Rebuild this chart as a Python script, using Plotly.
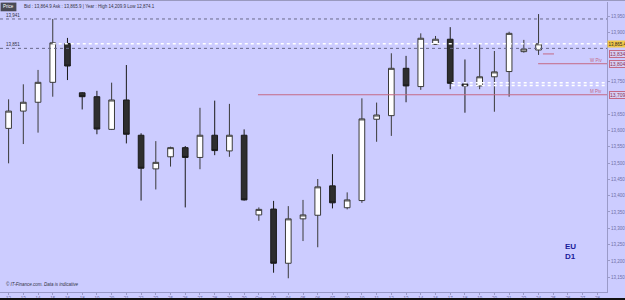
import plotly.graph_objects as go

# ---------------- data ----------------
day_labels = ["12", "13", "14", "15", "16", "18", "19", "20", "21", "22", "23", "25", "26", "27",
              "28", "29", "30", "Oct", "03", "04", "05", "06", "07", "09", "10", "11", "12", "13",
              "14", "16", "17", "18", "19", "20", "21", "23", "24"]
future_labels = ["25", "26", "27", "28"]

opens = [13606, 13659, 13686, 13747, 13866, 13715, 13703, 13603, 13693, 13585, 13482, 13519, 13547,
         13517, 13585, 13537, 13585, 13341, 13359, 13193, 13329, 13340, 13430, 13363, 13385, 13634,
         13645, 13790, 13734, 13863, 13879, 13742, 13736, 13764, 13780, 13841, 13846]
highs = [13695, 13741, 13785, 13941, 13883, 13717, 13721, 13746, 13800, 13591, 13567, 13550, 13552,
         13669, 13691, 13681, 13603, 13364, 13384, 13368, 13387, 13451, 13527, 13410, 13698, 13685,
         13836, 13828, 13897, 13889, 13916, 13817, 13867, 13843, 13902, 13877, 13956]
lows = [13499, 13558, 13593, 13703, 13754, 13664, 13588, 13601, 13560, 13385, 13419, 13489, 13364,
        13481, 13524, 13519, 13385, 13323, 13164, 13147, 13261, 13242, 13361, 13358, 13378, 13565,
        13583, 13686, 13724, 13863, 13726, 13654, 13726, 13657, 13703, 13838, 13831]
closes = [13659, 13686, 13747, 13868, 13797, 13703, 13604, 13693, 13588, 13484, 13502, 13547, 13517,
          13585, 13538, 13585, 13387, 13358, 13193, 13329, 13341, 13427, 13378, 13387, 13635, 13647,
          13790, 13736, 13882, 13879, 13744, 13736, 13764, 13779, 13897, 13849, 13865]

price_ticks = [13150, 13200, 13250, 13300, 13350, 13400, 13450, 13500, 13550, 13600,
               13650, 13750, 13900, 13950]
gray_levels = [13941, 13851]
gray_level_labels = ["13,941", "13,851"]
bid_level = 13865.4
range_levels = [13746, 13737]
m_pivot = 13709
w_pivot = 13804
d_pivot = 13834
header_text = "Bid : 13,864.9 Ask : 13,865.9 | Year : High 14,209.9 Low 12,874.1"

# ---------------- figure ----------------
all_labels = day_labels + future_labels
xs = list(range(len(day_labels)))
n_all = len(all_labels)

BG = "#CCCCFF"
AXC = "#6E6EA6"
RED = "#C46A86"

fig = go.Figure()
fig.add_trace(go.Candlestick(
    x=xs, open=opens, high=highs, low=lows, close=closes,
    increasing=dict(fillcolor="#FFFFFF", line=dict(color="#3A3A3A", width=1)),
    decreasing=dict(fillcolor="#2E2E2E", line=dict(color="#1A1A1A", width=1)),
    whiskerwidth=0, showlegend=False, hoverinfo="skip",
))

shapes = []
x0 = -0.584
x1 = 40.65
# gray dotted levels
for lv in gray_levels:
    shapes.append(dict(type="line", xref="x", yref="y", x0=x0, x1=x1, y0=lv, y1=lv,
                       line=dict(color="#6A6A8A", width=1, dash="dot")))
# white dotted bid line
shapes.append(dict(type="line", xref="x", yref="y", x0=3, x1=x1, y0=bid_level, y1=bid_level,
                   line=dict(color="#FFFFFF", width=1.5, dash="dot")))
for lv in range_levels:
    shapes.append(dict(type="line", xref="x", yref="y", x0=30.1, x1=x1, y0=lv, y1=lv,
                       line=dict(color="#FFFFFF", width=1.5, dash="dot")))
# pivots
shapes.append(dict(type="line", xref="x", yref="y", x0=16.94, x1=x1, y0=m_pivot, y1=m_pivot,
                   line=dict(color=RED, width=1)))
shapes.append(dict(type="line", xref="x", yref="y", x0=35.97, x1=x1, y0=w_pivot, y1=w_pivot,
                   line=dict(color=RED, width=1)))
shapes.append(dict(type="line", xref="x", yref="y", x0=36.3, x1=37.05, y0=d_pivot, y1=d_pivot,
                   line=dict(color=RED, width=1)))
# header band & bottom black bar
shapes.append(dict(type="line", xref="paper", yref="paper", x0=0, x1=1.03, y0=1.006, y1=1.006,
                   line=dict(color="#8888AA", width=1)))
shapes.append(dict(type="rect", xref="paper", yref="paper", x0=0.001, x1=0.027, y0=0.968, y1=0.998,
                   fillcolor="#4A4A55", line=dict(width=0)))
shapes.append(dict(type="rect", xref="paper", yref="paper", x0=-0.01, x1=1.05, y0=-0.03, y1=-0.021,
                   fillcolor="#111111", line=dict(width=0)))

annotations = []
annotations.append(dict(xref="paper", yref="paper", x=0.014, y=0.983, text="Price", showarrow=False,
                        font=dict(size=4.5, color="#FFFFFF", family="Liberation Sans"),
                        xanchor="center", yanchor="middle"))
annotations.append(dict(xref="paper", yref="paper", x=0.037, y=0.983, text=header_text, showarrow=False,
                        font=dict(size=4.5, color="#333344", family="Liberation Sans Narrow, Liberation Sans"),
                        xanchor="left", yanchor="middle"))
for lv, lab in zip(gray_levels, gray_level_labels):
    annotations.append(dict(xref="paper", yref="y", x=0.006, y=lv, text=lab, showarrow=False,
                            font=dict(size=4.5, color="#333344", family="Liberation Sans"),
                            xanchor="left", yanchor="bottom", yshift=-1))
# pivot labels
annotations.append(dict(xref="x", yref="y", x=x1 - 0.2, y=w_pivot, text="W Piv", showarrow=False,
                        font=dict(size=4.5, color=RED, family="Liberation Sans"),
                        xanchor="right", yanchor="bottom", yshift=-1))
annotations.append(dict(xref="x", yref="y", x=x1 - 0.2, y=m_pivot, text="M Piv", showarrow=False,
                        font=dict(size=4.5, color=RED, family="Liberation Sans"),
                        xanchor="right", yanchor="bottom", yshift=-1))
# value boxes on the price axis
annotations.append(dict(xref="paper", yref="y", x=1.0, y=bid_level, text="13,865.4", showarrow=False,
                        font=dict(size=4.5, color="#222222", family="Liberation Sans"),
                        bgcolor="#F2C94C", borderpad=0.5, xanchor="left", yanchor="middle"))
for lv, lab in [(d_pivot, "13,834"), (w_pivot, "13,804"), (m_pivot, "13,709")]:
    annotations.append(dict(xref="paper", yref="y", x=1.003, y=lv, text=lab, showarrow=False,
                            font=dict(size=5, color="#883355", family="Liberation Sans"),
                            bgcolor="#D8D0F4", bordercolor="#C46A86", borderwidth=1, borderpad=0,
                            xanchor="left", yanchor="middle"))
# EU / D1
annotations.append(dict(xref="paper", yref="paper", x=0.927, y=0.14, text="<b>EU<br>D1</b>", showarrow=False,
                        font=dict(size=8, color="#1A1A99", family="Liberation Sans"),
                        xanchor="left", yanchor="middle", align="left"))
annotations.append(dict(xref="paper", yref="paper", x=0.006, y=0.01, text="<i>© IT-Finance.com. Data is indicative</i>",
                        showarrow=False, font=dict(size=4.5, color="#333344", family="Liberation Sans"),
                        xanchor="left", yanchor="bottom"))

fig.update_layout(
    width=625, height=300,
    margin=dict(l=0, r=18, t=2, b=8),
    paper_bgcolor=BG, plot_bgcolor=BG,
    boxgap=0.45,
    shapes=shapes, annotations=annotations,
    xaxis=dict(
        range=[x0, x1], rangeslider=dict(visible=False),
        tickmode="array", tickvals=list(range(n_all)), ticktext=all_labels,
        showgrid=False, zeroline=False,
        showline=True, linecolor="#9A9AC8", linewidth=1,
        ticks="outside", ticklen=2, tickcolor="#9A9AC8",
        tickfont=dict(size=4.5, color=AXC, family="Liberation Sans"),
    ),
    yaxis=dict(
        side="right", range=[13105.0, 13993.0],
        tickmode="array", tickvals=price_ticks,
        ticktext=[f"{v:,}" for v in price_ticks],
        showgrid=False, zeroline=False,
        showline=True, linecolor="#9A9AC8", linewidth=1,
        ticks="outside", ticklen=2, tickcolor="#9A9AC8",
        tickfont=dict(size=4.5, color=AXC, family="Liberation Sans"),
    ),
)

fig.write_html("out.html")
